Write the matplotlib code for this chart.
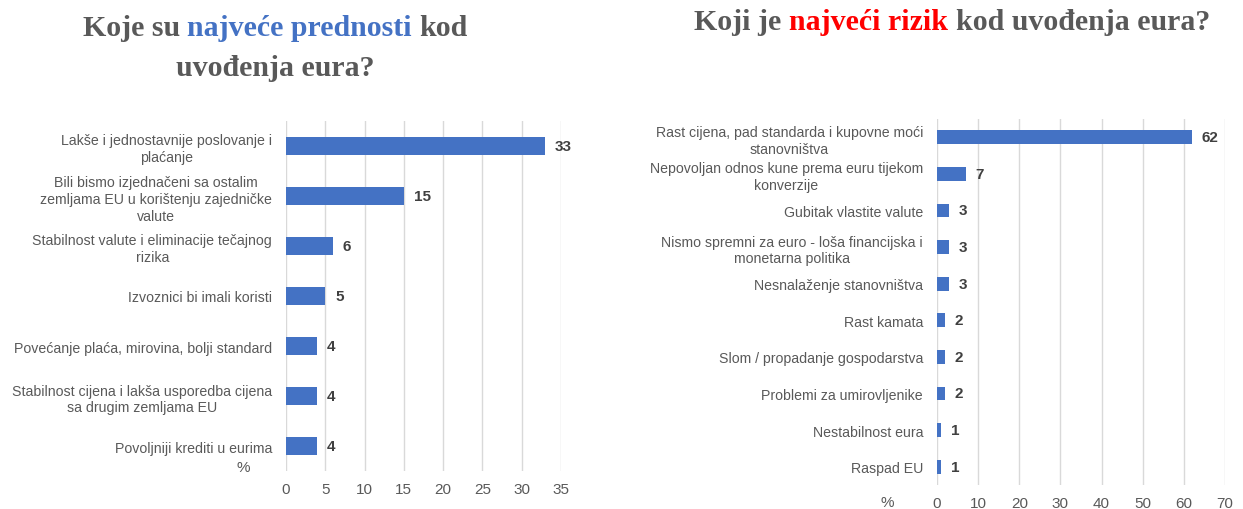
import matplotlib
matplotlib.use('Agg')
import matplotlib.pyplot as plt
import numpy as np

plt.rcParams['font.family'] = ['Liberation Sans', 'DejaVu Sans']

# ==========================================
# Data
# ==========================================
benefit_labels = [
    'Lakše i jednostavnije poslovanje i\nplaćanje',
    'Bili bismo izjednačeni sa ostalim\nzemljama EU u korištenju zajedničke\nvalute',
    'Stabilnost valute i eliminacije tečajnog\nrizika',
    'Izvoznici bi imali koristi',
    'Povećanje plaća, mirovina, bolji standard',
    'Stabilnost cijena i lakša usporedba cijena\nsa drugim zemljama EU',
    'Povoljniji krediti u eurima',
]
benefit_values = [33, 15, 6, 5, 4, 4, 4]
benefit_ticks = [0, 5, 10, 15, 20, 25, 30, 35]

risk_labels = [
    'Rast cijena, pad standarda i kupovne moći\nstanovništva',
    'Nepovoljan odnos kune prema euru tijekom\nkonverzije',
    'Gubitak vlastite valute',
    'Nismo spremni za euro - loša financijska i\nmonetarna politika',
    'Nesnalaženje stanovništva',
    'Rast kamata',
    'Slom / propadanje gospodarstva',
    'Problemi za umirovljenike',
    'Nestabilnost eura',
    'Raspad EU',
]
risk_values = [62, 7, 3, 3, 3, 2, 2, 2, 1, 1]
risk_ticks = [0, 10, 20, 30, 40, 50, 60, 70]

BAR = '#4472C4'
GREY = '#595959'
TITLE_GREY = '#595959'

fig = plt.figure(figsize=(12.43, 5.1), dpi=100)


def draw_bars(ax, labels, values, ticks, height):
    y = np.arange(len(values))
    bars = ax.barh(y, values, height=height, color=BAR, zorder=3)
    ax.set_yticks(y)
    ax.set_yticklabels(labels, fontsize=10.2, color=GREY, linespacing=1.25)
    for t in ax.get_yticklabels():
        t.set_multialignment('center')
    ax.set_ylim(len(values) - 0.5, -0.5)
    ax.set_xticks(ticks)
    ax.set_xlim(ticks[0], ticks[-1])
    ax.tick_params(axis='x', labelsize=11, labelcolor=GREY, length=0, pad=8)
    ax.tick_params(axis='y', length=0, pad=10)
    ax.xaxis.grid(True, color='#d9d9d9', linewidth=1, zorder=0)
    ax.set_axisbelow(True)
    for s in ax.spines.values():
        s.set_visible(False)
    ax.bar_label(bars, padding=7, fontsize=11, fontweight='bold', color='#404040')


# ==========================================
# Left: benefits
# ==========================================
ax1 = fig.add_axes([0.2301, 0.0745, 0.2212, 0.6863])
draw_bars(ax1, benefit_labels, benefit_values, benefit_ticks, 0.36)
fig.text(243 / 1243, 1 - 468 / 510, '%', fontsize=11, color=GREY, ha='center', va='center')

# ==========================================
# Right: risks
# ==========================================
ax2 = fig.add_axes([0.7538, 0.0471, 0.2317, 0.7176])
draw_bars(ax2, risk_labels, risk_values, risk_ticks, 0.38)
fig.text(887 / 1243, 1 - 503 / 510, '%', fontsize=11, color=GREY, ha='center', va='center')


# ==========================================
# Titles with coloured words
# ==========================================
renderer = fig.canvas.get_renderer()
title_kw = dict(fontsize=21.5, fontweight='bold', family=['Liberation Serif', 'DejaVu Serif'], va='center')

probe = fig.text(0, 0, 'x x', **title_kw)
w_sp = probe.get_window_extent(renderer).width
probe.set_text('xx')
w_sp -= probe.get_window_extent(renderer).width
probe.remove()


def coloured_line(xc, yc, parts):
    texts = []
    widths = []
    for s, c in parts:
        t = fig.text(0, yc / 510, s, color=c, **title_kw)
        texts.append(t)
        widths.append(t.get_window_extent(renderer).width)
    total = sum(widths) + w_sp * (len(parts) - 1)
    x = xc - total / 2
    for t, w in zip(texts, widths):
        t.set_x(x / 1243)
        x += w + w_sp


coloured_line(275, 510 - 29, [('Koje su', TITLE_GREY), ('najveće prednosti', BAR), ('kod', TITLE_GREY)])
coloured_line(275, 510 - 68, [('uvođenja eura?', TITLE_GREY)])
coloured_line(952, 510 - 23, [('Koji je', TITLE_GREY), ('najveći rizik', '#FF0000'), ('kod uvođenja eura?', TITLE_GREY)])

fig.savefig('out.png', dpi=100)
